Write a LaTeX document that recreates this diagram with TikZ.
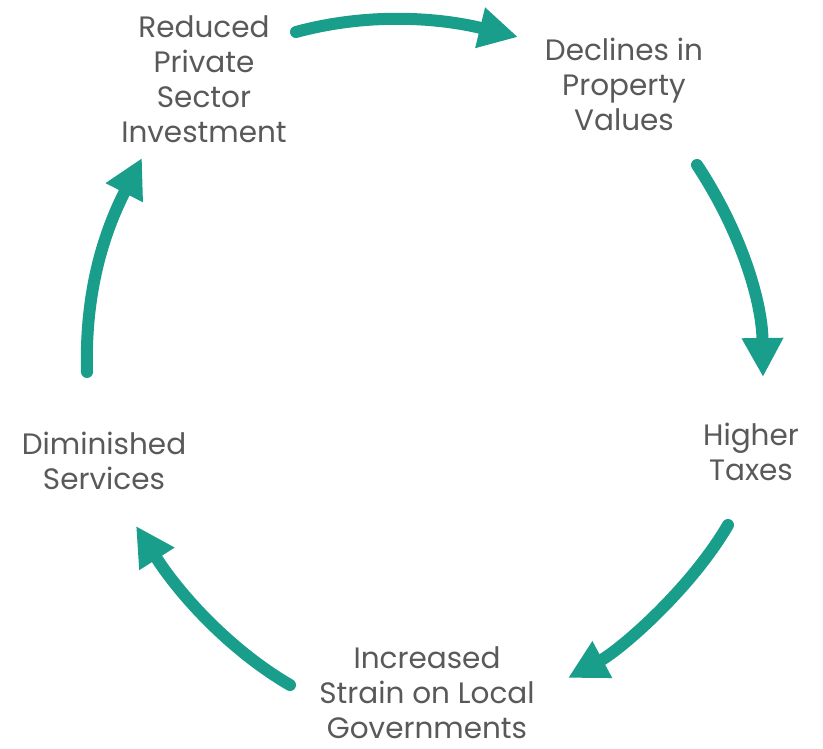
\documentclass[tikz,border=0pt]{standalone}
\usepackage{fontspec}
\setmainfont{Poppins}
\usetikzlibrary{arrows.meta}
\definecolor{teal1}{RGB}{26,158,140}
\definecolor{txt}{RGB}{89,89,89}
\tikzset{
  lbl/.style={align=center, text=txt, font=\fontsize{29.5pt}{35pt}\selectfont, inner sep=0pt},
  cyc/.style={draw=teal1, line width=12pt, line cap=round, -{Triangle[length=39pt,width=39pt]}}
}
\begin{document}
\begin{tikzpicture}[x=1pt,y=-1pt]
\useasboundingbox (0,0) rectangle (823,749);
\node[lbl] (A) at (204,79) {Reduced\\Private\\Sector\\Investment};
\node[lbl] (B) at (624,84) {Declines in\\Property\\Values};
\node[lbl] (C) at (751,452) {Higher\\Taxes};
\node[lbl] (D) at (427,693) {Increased\\Strain on Local\\Governments};
\node[lbl] (E) at (104,461) {Diminished\\Services};
\coordinate (a1) at (296,32);  \coordinate (a2) at (518,37);
\coordinate (b1) at (697,165); \coordinate (b2) at (763,377);
\coordinate (c1) at (728,525); \coordinate (c2) at (568,678);
\coordinate (d1) at (290,685); \coordinate (d2) at (136,526);
\coordinate (e1) at (87,372);  \coordinate (e2) at (142,158);
\draw[cyc] (a1) .. controls (370,12) and (440,18) .. (a2);
\draw[cyc] (b1) .. controls (740,230) and (762,300) .. (b2);
\draw[cyc] (c1) .. controls (690,590) and (620,650) .. (c2);
\draw[cyc] (d1) .. controls (230,650) and (180,595) .. (d2);
\draw[cyc] (e1) .. controls (85,300) and (100,240) .. (e2);
\end{tikzpicture}
\end{document}
